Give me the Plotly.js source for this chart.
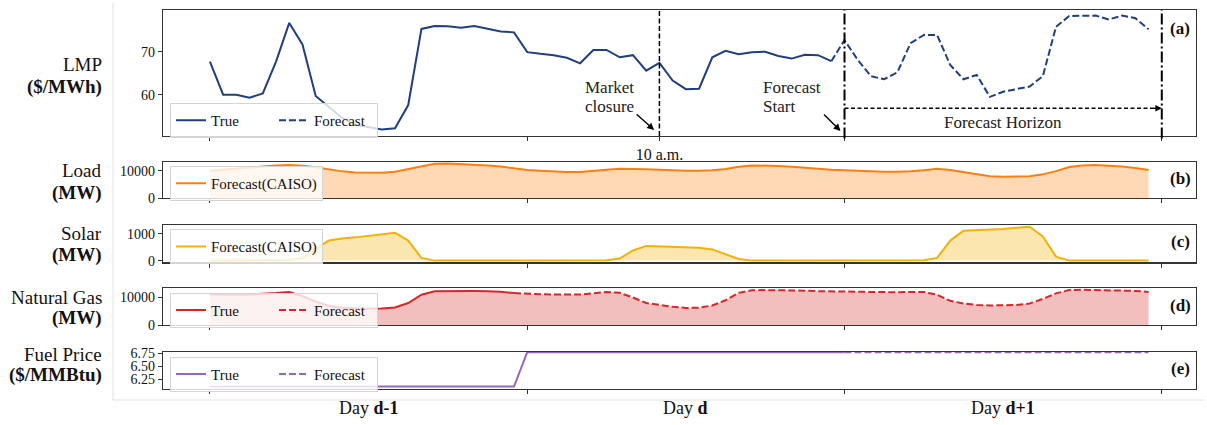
<!DOCTYPE html>
<html>
<head>
<meta charset="utf-8">
<script src="https://cdn.plot.ly/plotly-3.0.1.min.js"></script>
<style>html,body{margin:0;padding:0;background:#fff;}#chart{width:1207px;height:425px;}</style>
</head>
<body>
<div id="chart"></div>
<script>
// ---------------- data ----------------
const lmpTrueHours = [0,1,2,3,4,5,6,7,8,9,10,11,12,13,14,15,16,17,18,19,20,21,22,23,24,25,26,27,28,29,30,31,32,33,34,35,36,37,38,39,40,41,42,43,44,45,46,47];
const lmpTrue = [67.7,60.0,60.0,59.3,60.3,67.7,76.7,71.7,59.7,57.2,54.6,53.0,52.4,51.9,52.2,57.6,75.3,76.0,75.9,75.6,76.0,75.3,74.7,74.5,69.9,69.5,69.2,68.6,67.3,70.4,70.4,68.7,69.2,65.6,67.4,63.3,61.3,61.4,68.7,70.2,69.4,69.9,70.0,69.0,68.4,69.3,69.2,67.8];
const lmpFcHours = [47,48,49,50,51,52,53,54,55,56,57,58,59,60,61,62,63,64,65,66,67,68,69,70,71];
const lmpForecast = [67.8,72.7,68.1,64.3,63.6,65.2,72.0,73.9,73.9,66.9,63.6,64.6,59.5,60.7,61.3,61.9,64.3,75.8,78.3,78.3,78.4,77.5,78.4,77.8,75.2];

const allHours = [0,1,2,3,4,5,6,7,8,9,10,11,12,13,14,15,16,17,18,19,20,21,22,23,24,25,26,27,28,29,30,31,32,33,34,35,36,37,38,39,40,41,42,43,44,45,46,47,48,49,50,51,52,53,54,55,56,57,58,59,60,61,62,63,64,65,66,67,68,69,70,71];
const loadForecast = [10000,10400,10900,11300,11700,12000,12100,11900,11300,10500,9800,9400,9250,9300,9700,10700,11800,12600,12700,12500,12200,12000,11600,11000,10300,10000,9700,9550,9600,9900,10400,10800,10800,10600,10400,10100,10000,10000,10200,10700,11500,12000,12000,11800,11500,11100,10700,10400,10200,10000,9800,9700,9700,9800,10200,10800,10300,9500,8600,8000,7800,7800,8000,8700,9900,11400,12000,12100,11900,11600,11000,10300];
const solarForecast = [0,0,0,0,0,0,20,100,450,750,830,870,920,980,1040,750,100,0,0,0,0,0,0,0,0,0,0,0,0,0,10,80,380,550,530,510,500,480,420,250,60,0,0,0,0,0,0,0,0,0,0,0,0,0,10,100,750,1120,1140,1150,1180,1230,1270,900,150,0,0,0,0,0,0,0];

const gasTrueHours = [0,1,2,3,4,5,6,7,8,9,10,11,12,13,14,15,16,17,18,19,20,21,22,23];
const gasTrue = [11200,11000,11000,11100,11300,11600,12000,10500,8500,7000,6300,6000,5950,6000,6400,8000,11000,12300,12400,12400,12350,12300,12100,11600];
const gasFcHours = [23,24,25,26,27,28,29,30,31,32,33,34,35,36,37,38,39,40,41,42,43,44,45,46,47,48,49,50,51,52,53,54,55,56,57,58,59,60,61,62,63,64,65,66,67,68,69,70,71];
const gasForecast = [11600,11300,11200,11100,11000,11100,11500,12000,11700,10000,8000,7200,6600,6200,6300,7100,9000,11700,12600,12700,12700,12600,12500,12300,12200,12100,12000,11900,11800,11900,12000,12000,11000,8800,7800,7300,7100,7100,7300,7800,9500,11500,12700,12800,12700,12700,12600,12400,12000];

const fuelTrueHours = [0,1,2,3,4,5,6,7,8,9,10,11,12,13,14,15,16,17,18,19,20,21,22,23,24,25,26,27,28,29,30,31,32,33,34,35,36,37,38,39,40,41,42,43,44,45,46,47,48];
const fuelTrue = [6.11,6.11,6.11,6.11,6.11,6.11,6.11,6.11,6.11,6.11,6.11,6.11,6.11,6.11,6.11,6.11,6.11,6.11,6.11,6.11,6.11,6.11,6.11,6.11,6.77,6.77,6.77,6.77,6.77,6.77,6.77,6.77,6.77,6.77,6.77,6.77,6.77,6.77,6.77,6.77,6.77,6.77,6.77,6.77,6.77,6.77,6.77,6.77,6.77];
const fuelFcHours = [48,49,50,51,52,53,54,55,56,57,58,59,60,61,62,63,64,65,66,67,68,69,70,71];
const fuelForecast = [6.77,6.77,6.77,6.77,6.77,6.77,6.77,6.77,6.77,6.77,6.77,6.77,6.77,6.77,6.77,6.77,6.77,6.77,6.77,6.77,6.77,6.77,6.77,6.77];

const dayTickHours = [0,24,48,72];
const topTickHours = [0,24,34,48,72];
const topTickText = ['','','10 a.m.','',''];
const dayLabelHours = [12,36,60];
const dayLabels = ['Day <b>d-1</b>','Day <b>d</b>','Day <b>d+1</b>'];
const marketClosureHour = 34;
const forecastStartHour = 48;
const forecastEndHour = 72;

// ---------------- layout helpers ----------------
const W = 1207, H = 425;
const FONT = '"Liberation Serif", "DejaVu Serif", serif';
const px = v => v / W;
const py = v => 1 - v / H;
const xDom = [px(163), px(1195.5)];
const panels = [[10,136],[162,198],[225,262.3],[288.3,325],[351.7,388.7]];
const AX = '#333333';

const colors = {
  lmp: '#213f7d',
  load: '#ff7f0e', loadFill: 'rgba(255,127,14,0.30)',
  solar: '#f2b205', solarFill: 'rgba(242,178,5,0.32)',
  gas: '#d62728', gasFill: 'rgba(214,39,40,0.30)',
  fuel: '#9467bd'
};

// gas full series for fill
const gasFillHours = gasTrueHours.concat(gasFcHours.slice(1));
const gasFillVals = gasTrue.concat(gasForecast.slice(1));

const traces = [
  // (a) LMP
  {x: lmpTrueHours, y: lmpTrue, xaxis:'x', yaxis:'y', mode:'lines', name:'True', legend:'legend',
   line:{color:colors.lmp, width:2}},
  {x: lmpFcHours, y: lmpForecast, xaxis:'x', yaxis:'y', mode:'lines', name:'Forecast', legend:'legend',
   line:{color:colors.lmp, width:2, dash:'7px,3px'}},
  // (b) Load
  {x: allHours, y: loadForecast, xaxis:'x2', yaxis:'y2', mode:'none', fill:'tozeroy', fillcolor:colors.loadFill, showlegend:false, hoverinfo:'skip'},
  {x: allHours, y: loadForecast, xaxis:'x2', yaxis:'y2', mode:'lines', name:'Forecast(CAISO)', legend:'legend2',
   line:{color:colors.load, width:2}},
  // (c) Solar
  {x: allHours, y: solarForecast, xaxis:'x3', yaxis:'y3', mode:'none', fill:'tozeroy', fillcolor:colors.solarFill, showlegend:false, hoverinfo:'skip'},
  {x: allHours, y: solarForecast, xaxis:'x3', yaxis:'y3', mode:'lines', name:'Forecast(CAISO)', legend:'legend3',
   line:{color:colors.solar, width:2}},
  // (d) Gas
  {x: gasFillHours, y: gasFillVals, xaxis:'x4', yaxis:'y4', mode:'none', fill:'tozeroy', fillcolor:colors.gasFill, showlegend:false, hoverinfo:'skip'},
  {x: gasTrueHours, y: gasTrue, xaxis:'x4', yaxis:'y4', mode:'lines', name:'True', legend:'legend4',
   line:{color:colors.gas, width:2}},
  {x: gasFcHours, y: gasForecast, xaxis:'x4', yaxis:'y4', mode:'lines', name:'Forecast', legend:'legend4',
   line:{color:colors.gas, width:2, dash:'7px,3px'}},
  // (e) Fuel
  {x: fuelTrueHours, y: fuelTrue, xaxis:'x5', yaxis:'y5', mode:'lines', name:'True', legend:'legend5',
   line:{color:colors.fuel, width:2}},
  {x: fuelFcHours, y: fuelForecast, xaxis:'x5', yaxis:'y5', mode:'lines', name:'Forecast', legend:'legend5',
   line:{color:colors.fuel, width:2, dash:'7px,3px'}}
];

function xAxis(i, anchor) {
  const top = i === 0;
  return {
    domain: xDom, anchor: anchor, range: [-3.55, 74.55],
    tickvals: top ? topTickHours : dayTickHours,
    ticktext: top ? topTickText : undefined,
    showticklabels: top,
    ticks: 'outside', ticklen: 4, tickwidth: 1, tickcolor: AX,
    tickfont: {family: FONT, size: 16, color: '#111'},
    showline: true, mirror: true, linecolor: AX, linewidth: 1.2,
    showgrid: false, zeroline: false, fixedrange: true
  };
}
function yAxis(i, anchor, range, tickvals, fmt) {
  return {
    domain: [py(panels[i][1]), py(panels[i][0])], anchor: anchor, range: range,
    tickvals: tickvals, tickformat: fmt,
    ticks: 'outside', ticklen: 4, tickwidth: 1, tickcolor: AX,
    tickfont: {family: FONT, size: 14, color: '#111'},
    showline: true, mirror: true, linecolor: AX, linewidth: 1.2,
    showgrid: false, zeroline: false, fixedrange: true
  };
}

function legendAt(topPx, twoItems) {
  const lg = {
    x: px(170), y: py(topPx), xanchor: 'left', yanchor: 'top', orientation: 'h',
    bgcolor: 'rgba(255,255,255,0.8)', bordercolor: '#d4d4d4', borderwidth: 1,
    font: {family: FONT, size: 15, color: '#111'},
    itemwidth: 30, tracegroupgap: 0
  };
  if (twoItems) { lg.entrywidth = 58; lg.entrywidthmode = 'pixels'; }
  return lg;
}

const ann = [];
// left labels
const leftLabels = [
  ['LMP', 64], ['<b>($/MWh)</b>', 87.3],
  ['Load', 170.7], ['<b>(MW)</b>', 193.3],
  ['Solar', 233.3], ['<b>(MW)</b>', 255],
  ['Natural Gas', 297.3], ['<b>(MW)</b>', 318.3],
  ['Fuel Price', 354], ['<b>($/MMBtu)</b>', 375]
];
leftLabels.forEach(l => ann.push({xref:'paper', yref:'paper', x: px(104), y: py(l[1]), xanchor:'right', yanchor:'middle',
  text: l[0], showarrow:false, font:{family:FONT, size:19, color:'#111'}}));
// panel letters
[['(a)',28.3],['(b)',178.3],['(c)',241.7],['(d)',305],['(e)',368.3]].forEach(l => ann.push({
  xref:'paper', yref:'paper', x: px(1180), y: py(l[1]), xanchor:'center', yanchor:'middle',
  text:'<b>'+l[0]+'</b>', showarrow:false, font:{family:FONT, size:17, color:'#111'}}));
// day labels
dayLabelHours.forEach((h, i) => ann.push({xref:'x5', yref:'paper', x: h, y: py(408), xanchor:'center', yanchor:'middle',
  text: dayLabels[i], showarrow:false, font:{family:FONT, size:18, color:'#111'}}));
// in-plot text
const tf = {family:FONT, size:17, color:'#222'};
ann.push({xref:'x', yref:'y domain', x: 28.2, y: 0.381, xanchor:'left', yanchor:'middle', text:'Market', showarrow:false, font:tf});
ann.push({xref:'x', yref:'y domain', x: 28.2, y: 0.238, xanchor:'left', yanchor:'middle', text:'closure', showarrow:false, font:tf});
ann.push({xref:'x', yref:'y domain', x: 41.7, y: 0.381, xanchor:'left', yanchor:'middle', text:'Forecast', showarrow:false, font:tf});
ann.push({xref:'x', yref:'y domain', x: 41.7, y: 0.238, xanchor:'left', yanchor:'middle', text:'Start', showarrow:false, font:tf});
ann.push({xref:'x', yref:'y domain', x: (forecastStartHour+forecastEndHour)/2, y: 0.111, xanchor:'center', yanchor:'middle', text:'Forecast Horizon', showarrow:false, font:tf});
// arrows
ann.push({xref:'x', yref:'y domain', x: 33.6, y: 0.048, text:'', showarrow:true, arrowhead:2, arrowsize:1, arrowwidth:1.4, arrowcolor:'#000', ax:-19, ay:-17, standoff:0});
ann.push({xref:'x', yref:'y domain', x: 47.7, y: 0.040, text:'', showarrow:true, arrowhead:2, arrowsize:1, arrowwidth:1.4, arrowcolor:'#000', ax:-18, ay:-18, standoff:0});
ann.push({xref:'x', yref:'y domain', x: forecastEndHour, y: 0.22, text:'', showarrow:true, arrowhead:2, arrowsize:1, arrowwidth:1.3, arrowcolor:'#000', ax:-10, ay:0, standoff:0});

const shapes = [
  {type:'line', xref:'x', yref:'y domain', x0: marketClosureHour, x1: marketClosureHour, y0:0, y1:1, line:{color:'#000', width:1.5, dash:'5px,2.5px'}},
  {type:'line', xref:'x', yref:'y domain', x0: forecastStartHour, x1: forecastStartHour, y0:-0.02, y1:1, line:{color:'#000', width:2, dash:'11px,3px,2px,3px'}},
  {type:'line', xref:'x', yref:'y domain', x0: forecastEndHour, x1: forecastEndHour, y0:-0.02, y1:1, line:{color:'#000', width:2, dash:'11px,3px,2px,3px'}},
  {type:'line', xref:'x', yref:'y domain', x0: forecastStartHour, x1: forecastEndHour - 0.6, y0:0.22, y1:0.22, line:{color:'#000', width:1.4, dash:'4px,2.5px'}},
  {type:'line', xref:'paper', yref:'paper', x0: px(113), x1: px(113), y0: py(3), y1: py(400), line:{color:'#e2e2e2', width:1}},
  {type:'line', xref:'paper', yref:'paper', x0: px(113), x1: px(1205), y0: py(400), y1: py(400), line:{color:'#e2e2e2', width:1}}
];

const layout = {
  width: W, height: H, margin:{l:0,r:0,t:0,b:0},
  paper_bgcolor:'#fff', plot_bgcolor:'#fff',
  font:{family:FONT, color:'#111'},
  xaxis: xAxis(0,'y'), xaxis2: xAxis(1,'y2'), xaxis3: xAxis(2,'y3'), xaxis4: xAxis(3,'y4'), xaxis5: xAxis(4,'y5'),
  yaxis: yAxis(0,'x',[50.4,79.7],[60,70],'d'),
  yaxis2: yAxis(1,'x2',[0,13250],[0,10000],'d'),
  yaxis3: yAxis(2,'x3',[-63,1333],[0,1000],'d'),
  yaxis4: yAxis(3,'x4',[0,13350],[0,10000],'d'),
  yaxis5: yAxis(4,'x5',[6.07,6.78],[6.25,6.5,6.75],'.2f'),
  legend: legendAt(103, true), legend2: legendAt(166, false), legend3: legendAt(229.3, false), legend4: legendAt(292.7, true), legend5: legendAt(356.7, true),
  annotations: ann, shapes: shapes, showlegend: true
};

Plotly.newPlot('chart', traces, layout, {displayModeBar:false, staticPlot:true});
</script>
</body>
</html>
